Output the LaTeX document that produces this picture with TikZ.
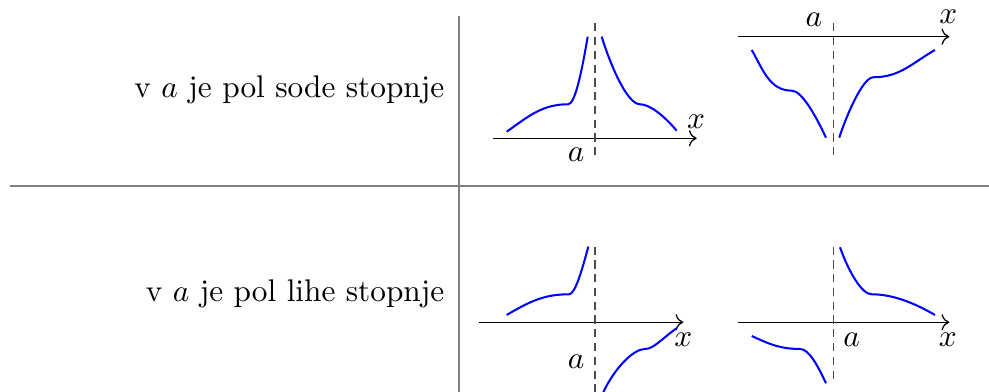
\documentclass[tikz,border=0pt]{standalone}
\usepackage{amsmath}
\usepackage{tikz}
\usetikzlibrary{arrows.meta,positioning,calc}
\tikzset{
  divider/.style={draw=gray, line width=0.65pt},
  axis/.style={->, line width=0.4pt},
  asym/.style={draw=black!70, line width=0.45pt, dash pattern=on 2.6pt off 1.8pt},
  branch/.style={draw=blue, line width=0.65pt},
  caselabel/.style={anchor=base east, inner sep=0pt},
  ticklabel/.style={inner sep=0pt},
}
\def\xL{6.682}
\def\xR{9.358}
\def\yT{2.849}
\def\yTR{3.990}
\def\yB{0.783}
\newcommand{\poleaxes}[4]{%
  \draw[axis] (#1,0) -- (#2,0);
  \draw[asym] (0,#3) -- (0,#4);}

\begin{document}
\begin{tikzpicture}
  \useasboundingbox (0,0) rectangle (11.107,4.402);
  \draw[divider] (0.112,2.313) -- (11.107,2.313);
  \draw[divider] (5.155,4.222) -- (5.155,0);
  \node[caselabel] (even) at (4.997,3.307) {v $a$ je pol sode stopnje};
  \node[caselabel] (odd) at (4.997,1.014) {v $a$ je pol lihe stopnje};
  % even order, both branches up
  \begin{scope}[shift={(\xL,\yT)}]
    \poleaxes{-1.145}{1.142}{1.291}{-0.225}
    \node[ticklabel] (a1) at (-0.213,-0.188) {$a$};
    \node[ticklabel] (x1) at (1.134,0.186) {$x$};
    \draw[branch] (-0.992,0.074) to[out=35,in=180] (-0.300,0.382)
      .. controls (-0.22,0.382) and (-0.14,0.80) .. (-0.082,1.141);
    \draw[branch] (0.075,1.141) .. controls (0.163,0.854) and (0.355,0.382) .. (0.505,0.382)
      .. controls (0.62,0.382) and (0.789,0.239) .. (0.917,0.085);
  \end{scope}
  % even order, both branches down
  \begin{scope}[shift={(\xR,\yTR)}]
    \poleaxes{-1.067}{1.303}{0.150}{-1.366}
    \node[ticklabel] (a2) at (-0.217,0.195) {$a$};
    \node[ticklabel] (x2) at (1.291,0.225) {$x$};
    \draw[branch] (-0.916,-0.149) to[out=-60,in=180] (-0.467,-0.606)
      .. controls (-0.35,-0.606) and (-0.188,-0.907) .. (-0.082,-1.134);
    \draw[branch] (0.067,-1.134) .. controls (0.144,-0.896) and (0.33,-0.456) .. (0.449,-0.456)
      to[out=0,in=210] (1.142,-0.149);
  \end{scope}
  % odd order, up then down
  \begin{scope}[shift={(\xL,\yB)}]
    \poleaxes{-1.299}{0.992}{0.849}{-0.783}
    \node[ticklabel] (a3) at (-0.213,-0.442) {$a$};
    \node[ticklabel] (x3) at (0.992,-0.199) {$x$};
    \draw[branch] (-0.992,0.082) to[out=30,in=180] (-0.292,0.314)
      .. controls (-0.22,0.314) and (-0.14,0.61) .. (-0.075,0.849);
    \draw[branch] (0.093,-0.786) .. controls (0.22,-0.516) and (0.43,-0.300) .. (0.562,-0.300)
      .. controls (0.66,-0.300) and (0.753,-0.182) .. (0.917,-0.067);
  \end{scope}
  % odd order, down then up
  \begin{scope}[shift={(\xR,\yB)}]
    \poleaxes{-1.067}{1.303}{0.849}{-0.685}
    \node[ticklabel] (a4) at (0.207,-0.199) {$a$};
    \node[ticklabel] (x4) at (1.285,-0.199) {$x$};
    \draw[branch] (-0.916,-0.154) to[out=-25,in=180] (-0.374,-0.300)
      .. controls (-0.27,-0.300) and (-0.167,-0.504) .. (-0.082,-0.685);
    \draw[branch] (0.075,0.842) .. controls (0.177,0.56) and (0.32,0.314) .. (0.431,0.314)
      .. controls (0.65,0.314) and (0.882,0.232) .. (1.142,0.082);
  \end{scope}
\end{tikzpicture}
\end{document}
